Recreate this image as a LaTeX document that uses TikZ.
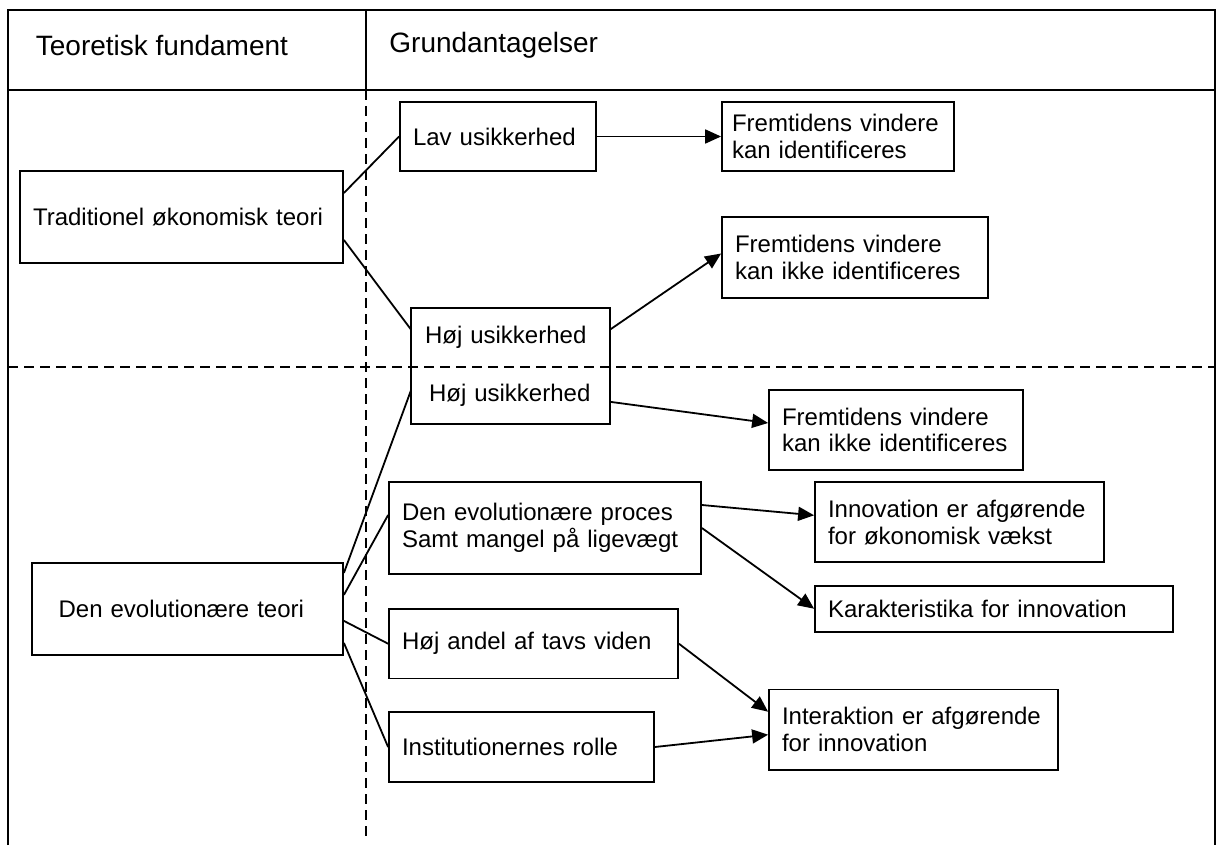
\documentclass[tikz,border=0pt]{standalone}
\usepackage{fontspec}
\setmainfont{Liberation Sans}
\usetikzlibrary{arrows.meta}

\begin{document}
\begin{tikzpicture}[
  x=0.5pt, y=-0.5pt,
  box/.style={rectangle, draw, line width=0.9pt, align=left,
              inner xsep=6.5pt, inner ysep=0pt,
              font=\fontsize{12}{13.4}\selectfont},
  txt/.style={box, draw=none},
  hdr/.style={anchor=west, inner sep=0pt,
              font=\fontsize{14}{16}\selectfont},
  sep/.style={line width=0.8pt, dash pattern=on 5pt off 3pt},
  >={Triangle[length=8pt, width=7pt]}, line width=0.9pt
]
  \useasboundingbox (0,0) rectangle (1218,845);

  %% Table frame
  \draw (8,845) -- (8,10) -- (1215,10) -- (1215,845);
  \draw (8,90) -- (1215,90);
  \draw (366,10) -- (366,90);
  \draw[sep] (366,90) -- (366,838);
  \draw[sep] (8,366.7) -- (1215,366.7);

  %% Header
  \node[hdr] (hdrL) at (35,45)    {Teoretisk fundament};
  \node[hdr] (hdrR) at (388.5,45) {Grundantagelser};

  %% Theories (left column)
  \node[box, text width=148.5pt, minimum height=46pt] (trad) at (181.5,217)
    {Traditionel økonomisk teori};
  \node[box, inner xsep=13.5pt, text width=128.7pt, minimum height=46.2pt] (evol) at (187.3,608.9)
    {Den evolutionære teori};

  %% Assumptions
  \node[box, text width=85pt, minimum height=34.5pt] (lav) at (498,136.5) {Lav usikkerhed};
  \node[txt, text width=85.5pt, minimum height=28.5pt] (hoejA) at (510.5,337.7) {Høj usikkerhed};
  \node[txt, inner xsep=8.5pt, text width=81.5pt, minimum height=28.5pt] (hoejB) at (510.5,394.8) {Høj usikkerhed};
  \draw (hoejA.north west) rectangle (hoejB.south east);
  \node[box, text width=143pt, minimum height=46pt] (proc) at (545,528)
    {Den evolutionære proces\\Samt mangel på ligevægt};
  \node[box, text width=131.5pt, minimum height=34.7pt] (tavs) at (533.5,643.7)
    {Høj andel af tavs viden};
  \node[box, text width=119.5pt, minimum height=34.7pt] (inst) at (521.5,747)
    {Institutionernes rolle};

  %% Consequences
  \node[box, inner xsep=5pt, text width=106pt, minimum height=34.5pt] (frem1) at (838,136.5)
    {Fremtidens~vindere\\kan~identificeres};
  \node[box, text width=120pt, minimum height=40.5pt] (frem2) at (855,257.5)
    {Fremtidens vindere\\kan ikke identificeres};
  \node[box, text width=114pt, minimum height=40pt] (frem3) at (896,430)
    {Fremtidens vindere\\kan ikke identificeres};
  \node[box, text width=131.5pt, minimum height=40pt] (innov) at (959.5,522.3)
    {Innovation er afgørende\\for økonomisk vækst};
  \node[box, text width=166pt, minimum height=23pt] (karak) at (994,608.7)
    {Karakteristika for innovation};
  \node[box, text width=131.5pt, minimum height=40.3pt] (interakt) at (913.5,729.7)
    {Interaktion er afgørende\\for innovation};

  %% Theory -> assumption
  \draw ([yshift=12pt]trad.east)  -- (lav.west);
  \draw ([yshift=-11.5pt]trad.east) -- ([yshift=4pt]hoejA.west);
  \draw ([yshift=18pt]evol.east)  -- ([yshift=2.4pt]hoejB.west);
  \draw ([yshift=7pt]evol.east)   -- ([yshift=6.5pt]proc.west);
  \draw ([yshift=-6pt]evol.east)  -- (tavs.west);
  \draw ([yshift=-17pt]evol.east) -- (inst.west);

  %% Assumption -> consequence
  \draw[->] (lav.east) -- (frem1.west);
  \draw[->] ([yshift=4pt]hoejA.east)    -- ([yshift=2pt]frem2.west);
  \draw[->] ([yshift=-3.5pt]hoejB.east) -- ([yshift=3.5pt]frem3.west);
  \draw[->] ([yshift=11.5pt]proc.east)  -- ([yshift=3.5pt]innov.west);
  \draw[->] (proc.east) -- (karak.west);
  \draw[->] (tavs.east) -- ([yshift=9pt]interakt.west);
  \draw[->] (inst.east) -- ([yshift=-2.5pt]interakt.west);

\end{tikzpicture}
\end{document}
